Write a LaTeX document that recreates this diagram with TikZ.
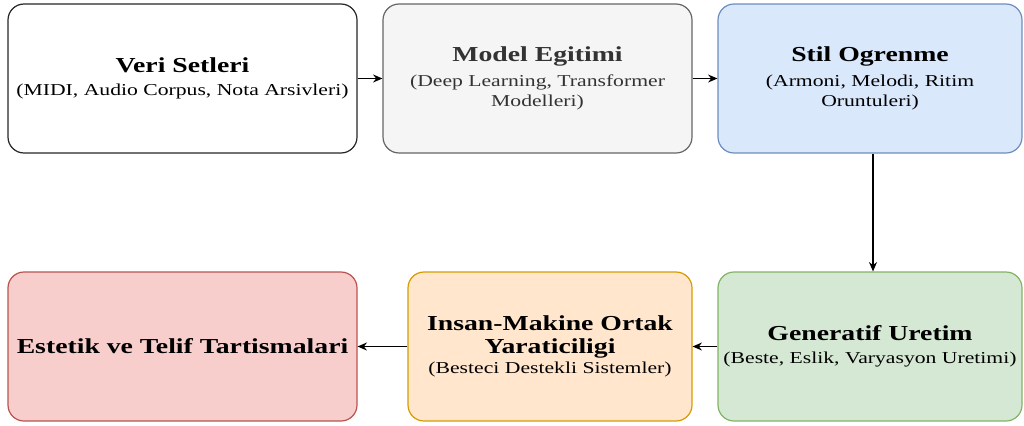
\documentclass[tikz,border=0pt]{standalone}
\usepackage{fontspec}
\setmainfont{Liberation Serif}[FakeStretch=1.3]
\usetikzlibrary{arrows.meta}
\definecolor{grayfill}{HTML}{F5F5F5}
\definecolor{grayline}{HTML}{666666}
\definecolor{graytext}{HTML}{333333}
\definecolor{bluefill}{HTML}{DAE8FC}
\definecolor{blueline}{HTML}{6C8EBF}
\definecolor{greenfill}{HTML}{D5E8D4}
\definecolor{greenline}{HTML}{82B366}
\definecolor{orangefill}{HTML}{FFE6CC}
\definecolor{orangeline}{HTML}{D79B00}
\definecolor{redfill}{HTML}{F8CECC}
\definecolor{redline}{HTML}{B85450}
\newcommand{\ttl}[1]{{\fontsize{16}{15}\selectfont\bfseries #1}}
\newcommand{\sub}[1]{{\fontsize{12.5}{15}\selectfont #1}}
\tikzset{
  stage/.style={draw, rounded corners=12pt, line width=0.9pt, align=center,
    minimum height=111.75pt, inner sep=2pt, font=\fontsize{12.5}{15}\selectfont},
  flow/.style={-{Stealth[length=7pt,width=6pt]}, line width=0.8pt, black}
}
\begin{document}
\begin{tikzpicture}[x=0.75pt,y=-0.75pt]
\useasboundingbox (0,0) rectangle (1024,425);
% top row
\node[stage, fill=white, draw=black!85, minimum width=261.75pt] (veri) at (182.5,78.5)
  {\ttl{Veri Setleri}\\[2pt]\sub{(MIDI, Audio Corpus, Nota Arsivleri)}};
\node[stage, fill=grayfill, draw=grayline, text=graytext, minimum width=231.75pt] (model) at (537.5,78.5)
  {\ttl{Model Egitimi}\\[3.5pt]\sub{(Deep Learning, Transformer}\\\sub{Modelleri)}};
\node[stage, fill=bluefill, draw=blueline, minimum width=228pt] (stil) at (870,78.5)
  {\ttl{Stil Ogrenme}\\[3.5pt]\sub{(Armoni, Melodi, Ritim}\\\sub{Oruntuleri)}};
% bottom row
\node[stage, fill=greenfill, draw=greenline, minimum width=228pt] (gen) at (870,346.5)
  {\ttl{Generatif Uretim}\\[2pt]\sub{(Beste, Eslik, Varyasyon Uretimi)}};
\node[stage, fill=orangefill, draw=orangeline, minimum width=213pt] (insan) at (550,346.5)
  {\ttl{Insan-Makine Ortak}\\[2pt]\ttl{Yaraticiligi}\\[0pt]\sub{(Besteci Destekli Sistemler)}};
\node[stage, fill=redfill, draw=redline, minimum width=261.75pt] (estetik) at (182.5,346.5)
  {\ttl{Estetik ve Telif Tartismalari}};
% connectors
\draw[flow] (veri) -- (model);
\draw[flow] (model) -- (stil);
\draw[flow] ([xshift=2.25pt]stil.south) -- ([xshift=2.25pt]gen.north);
\draw[flow] (gen) -- (insan);
\draw[flow] (insan) -- (estetik);
\end{tikzpicture}
\end{document}
